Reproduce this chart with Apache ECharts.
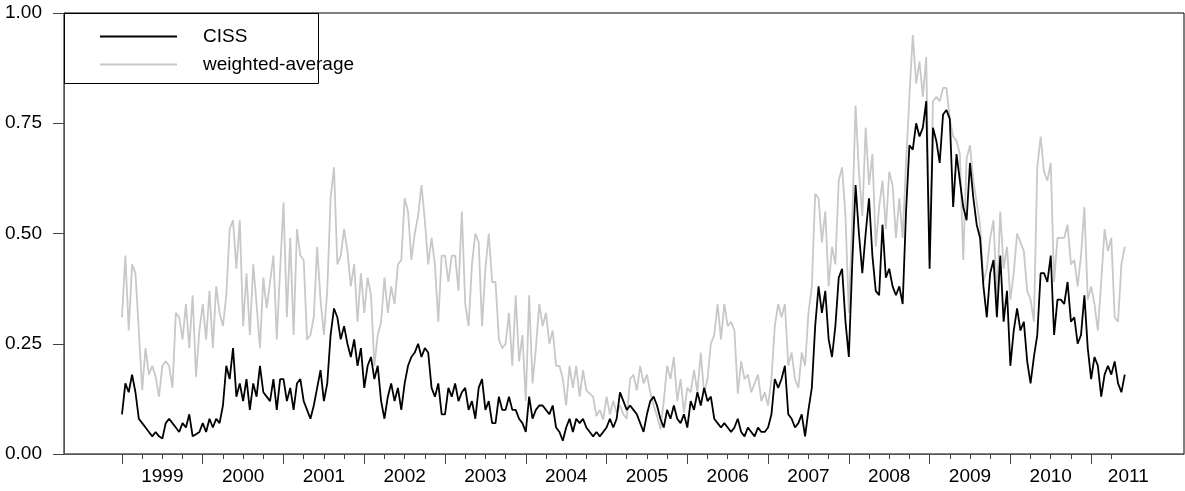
<!DOCTYPE html>
<html><head><meta charset="utf-8">
<script src="https://cdn.jsdelivr.net/npm/echarts@6/dist/echarts.min.js"></script>
<style>html,body{margin:0;padding:0;background:#fff}#c{width:1185px;height:491px}</style>
</head><body><div id="c"></div>
<script>
const startYear = 1999;
const stepsPerYear = 24;
const yearLabels = [1999,2000,2001,2002,2003,2004,2005,2006,2007,2008,2009,2010,2011];
const yTicks = [0,0.25,0.5,0.75,1.0];

const ciss = [
// 1999
0.09,0.16,0.14,0.18,0.14,0.08,0.07,0.06,0.05,0.04,0.05,0.04,0.035,0.07,0.08,0.07,0.06,0.05,0.07,0.06,0.09,0.04,0.045,0.05,
// 2000
0.07,0.05,0.08,0.06,0.08,0.07,0.11,0.20,0.17,0.24,0.13,0.16,0.12,0.17,0.10,0.16,0.13,0.20,0.14,0.13,0.12,0.17,0.10,0.17,
// 2001
0.17,0.12,0.15,0.10,0.16,0.17,0.12,0.10,0.08,0.11,0.15,0.19,0.12,0.16,0.27,0.33,0.31,0.26,0.29,0.25,0.22,0.26,0.20,0.24,
// 2002
0.15,0.20,0.22,0.17,0.20,0.12,0.08,0.13,0.16,0.12,0.15,0.10,0.16,0.20,0.22,0.23,0.25,0.22,0.24,0.23,0.15,0.13,0.16,0.09,
// 2003
0.09,0.15,0.13,0.16,0.12,0.14,0.15,0.10,0.12,0.08,0.15,0.17,0.10,0.12,0.07,0.07,0.13,0.10,0.10,0.13,0.10,0.10,0.08,0.07,
// 2004
0.05,0.13,0.08,0.10,0.11,0.11,0.10,0.09,0.11,0.06,0.05,0.03,0.06,0.08,0.05,0.08,0.07,0.08,0.06,0.05,0.04,0.05,0.04,0.05,
// 2005
0.06,0.08,0.06,0.08,0.14,0.12,0.10,0.11,0.10,0.09,0.07,0.05,0.09,0.12,0.13,0.11,0.08,0.06,0.10,0.08,0.11,0.08,0.07,0.09,
// 2006
0.06,0.12,0.10,0.14,0.11,0.15,0.12,0.13,0.08,0.07,0.06,0.07,0.06,0.05,0.06,0.08,0.05,0.04,0.06,0.05,0.04,0.06,0.05,0.05,
// 2007
0.06,0.09,0.17,0.15,0.17,0.20,0.09,0.08,0.06,0.07,0.09,0.04,0.10,0.15,0.29,0.38,0.32,0.37,0.26,0.22,0.29,0.40,0.42,0.30,
// 2008
0.22,0.43,0.61,0.50,0.41,0.50,0.58,0.45,0.37,0.36,0.52,0.40,0.42,0.38,0.36,0.38,0.34,0.55,0.70,0.69,0.75,0.72,0.74,0.80,
// 2009
0.42,0.74,0.71,0.66,0.77,0.78,0.76,0.56,0.68,0.62,0.56,0.53,0.66,0.58,0.52,0.49,0.38,0.31,0.41,0.44,0.31,0.45,0.30,0.37,
// 2010
0.20,0.28,0.33,0.28,0.30,0.21,0.16,0.22,0.27,0.41,0.41,0.39,0.45,0.27,0.35,0.35,0.34,0.39,0.30,0.31,0.25,0.27,0.36,0.24,
// 2011
0.17,0.22,0.20,0.13,0.18,0.20,0.18,0.21,0.16,0.14,0.18
];

const weighted = [
// 1999
0.31,0.45,0.28,0.43,0.41,0.28,0.145,0.24,0.18,0.20,0.175,0.13,0.20,0.21,0.20,0.15,0.32,0.31,0.26,0.34,0.24,0.36,0.175,0.28,
// 2000
0.34,0.26,0.37,0.24,0.38,0.32,0.29,0.36,0.51,0.53,0.42,0.53,0.29,0.41,0.27,0.43,0.34,0.24,0.40,0.33,0.39,0.45,0.26,0.42,
// 2001
0.57,0.31,0.49,0.27,0.51,0.45,0.44,0.26,0.27,0.31,0.47,0.35,0.27,0.37,0.58,0.65,0.43,0.45,0.51,0.46,0.38,0.43,0.30,0.41,
// 2002
0.32,0.40,0.36,0.20,0.27,0.30,0.40,0.32,0.38,0.34,0.43,0.44,0.58,0.55,0.44,0.50,0.54,0.61,0.53,0.43,0.49,0.43,0.30,0.45,
// 2003
0.45,0.39,0.45,0.45,0.37,0.55,0.34,0.29,0.43,0.50,0.48,0.29,0.42,0.50,0.39,0.39,0.26,0.24,0.25,0.32,0.20,0.36,0.21,0.27,
// 2004
0.12,0.36,0.16,0.24,0.34,0.29,0.32,0.25,0.28,0.20,0.20,0.17,0.11,0.20,0.15,0.20,0.13,0.19,0.144,0.137,0.13,0.086,0.10,0.078,
// 2005
0.13,0.09,0.12,0.094,0.11,0.09,0.08,0.17,0.18,0.144,0.20,0.16,0.18,0.14,0.11,0.086,0.056,0.12,0.20,0.17,0.22,0.12,0.17,0.094,
// 2006
0.15,0.14,0.19,0.14,0.23,0.137,0.17,0.25,0.27,0.34,0.26,0.34,0.29,0.30,0.28,0.137,0.21,0.17,0.18,0.14,0.16,0.18,0.12,0.14,
// 2007
0.11,0.17,0.29,0.34,0.31,0.34,0.20,0.23,0.17,0.15,0.23,0.20,0.32,0.38,0.59,0.58,0.48,0.55,0.38,0.47,0.43,0.62,0.65,0.54,
// 2008
0.32,0.53,0.79,0.64,0.54,0.74,0.61,0.68,0.47,0.56,0.62,0.51,0.64,0.61,0.49,0.58,0.49,0.66,0.81,0.95,0.84,0.89,0.81,0.90,
// 2009
0.44,0.80,0.81,0.80,0.83,0.83,0.76,0.72,0.71,0.68,0.44,0.67,0.70,0.62,0.57,0.52,0.39,0.42,0.49,0.53,0.35,0.55,0.42,0.47,
// 2010
0.35,0.41,0.50,0.48,0.46,0.37,0.35,0.30,0.65,0.72,0.64,0.62,0.66,0.39,0.49,0.49,0.49,0.52,0.43,0.44,0.38,0.45,0.56,0.35,
// 2011
0.38,0.34,0.28,0.39,0.51,0.46,0.49,0.31,0.30,0.43,0.47
];

const toPairs = arr => arr.map((v,i)=>[startYear + i/stepsPerYear, v]);
const majorTicks = yearLabels.slice();
const minorTicks = [];
yearLabels.forEach(y=>{ [0.25,0.5,0.75].forEach(q=>{ if (y+q <= 2011.3) minorTicks.push(y+q); }); });
const labelPos = yearLabels.map(y => y===2011 ? y+0.46 : y+0.5);

const FONT = 'Liberation Sans, Arial, sans-serif';
const FS = 19;
const chart = echarts.init(document.getElementById('c'));
const XMIN = 1998.282, XMAX = 2012.15;
chart.setOption({
  animation:false,
  grid:{left:64,right:1,top:13,bottom:37,show:true,borderColor:'#000',borderWidth:1},
  legend:[
    {data:['CISS'],left:95,top:22,itemWidth:77,itemHeight:2,icon:'rect',textStyle:{fontFamily:FONT,fontSize:FS,color:'#000',padding:[0,0,0,21]},selectedMode:false},
    {data:['weighted-average'],left:95,top:50,itemWidth:77,itemHeight:2,icon:'rect',textStyle:{fontFamily:FONT,fontSize:FS,color:'#000',padding:[0,0,0,21]},selectedMode:false}
  ],
  graphic:[{type:'rect',shape:{x:64.5,y:13.5,width:254,height:70},style:{fill:'none',stroke:'#000',lineWidth:1},z:1}],
  xAxis:[
    {type:'value',min:XMIN,max:XMAX,splitLine:{show:false},
     axisLine:{lineStyle:{color:'#555',width:1}},
     axisTick:{show:true,length:10,inside:false,customValues:majorTicks,lineStyle:{color:'#444'}},
     axisLabel:{customValues:labelPos,formatter:v=>String(Math.floor(v)),fontFamily:FONT,fontSize:FS,color:'#000',margin:13}},
    {type:'value',min:XMIN,max:XMAX,position:'bottom',splitLine:{show:false},
     axisLine:{show:false},
     axisTick:{show:true,length:5,customValues:minorTicks,lineStyle:{color:'#444'}},
     axisLabel:{show:false}}
  ],
  yAxis:{type:'value',min:0,max:1,interval:0.25,splitLine:{show:false},
    axisLine:{show:true,lineStyle:{color:'#555'}},
    axisTick:{show:true,length:11,lineStyle:{color:'#444'}},
    axisLabel:{formatter:v=>v.toFixed(2),fontFamily:FONT,fontSize:FS,color:'#000',margin:22}},
  series:[
    {name:'weighted-average',type:'line',data:toPairs(weighted),showSymbol:false,symbol:'none',
     lineStyle:{color:'#c8c8c8',width:1.8},itemStyle:{color:'#c8c8c8'},z:2},
    {name:'CISS',type:'line',data:toPairs(ciss),showSymbol:false,symbol:'none',
     lineStyle:{color:'#000',width:1.8},itemStyle:{color:'#000'},z:3}
  ]
});
</script></body></html>
